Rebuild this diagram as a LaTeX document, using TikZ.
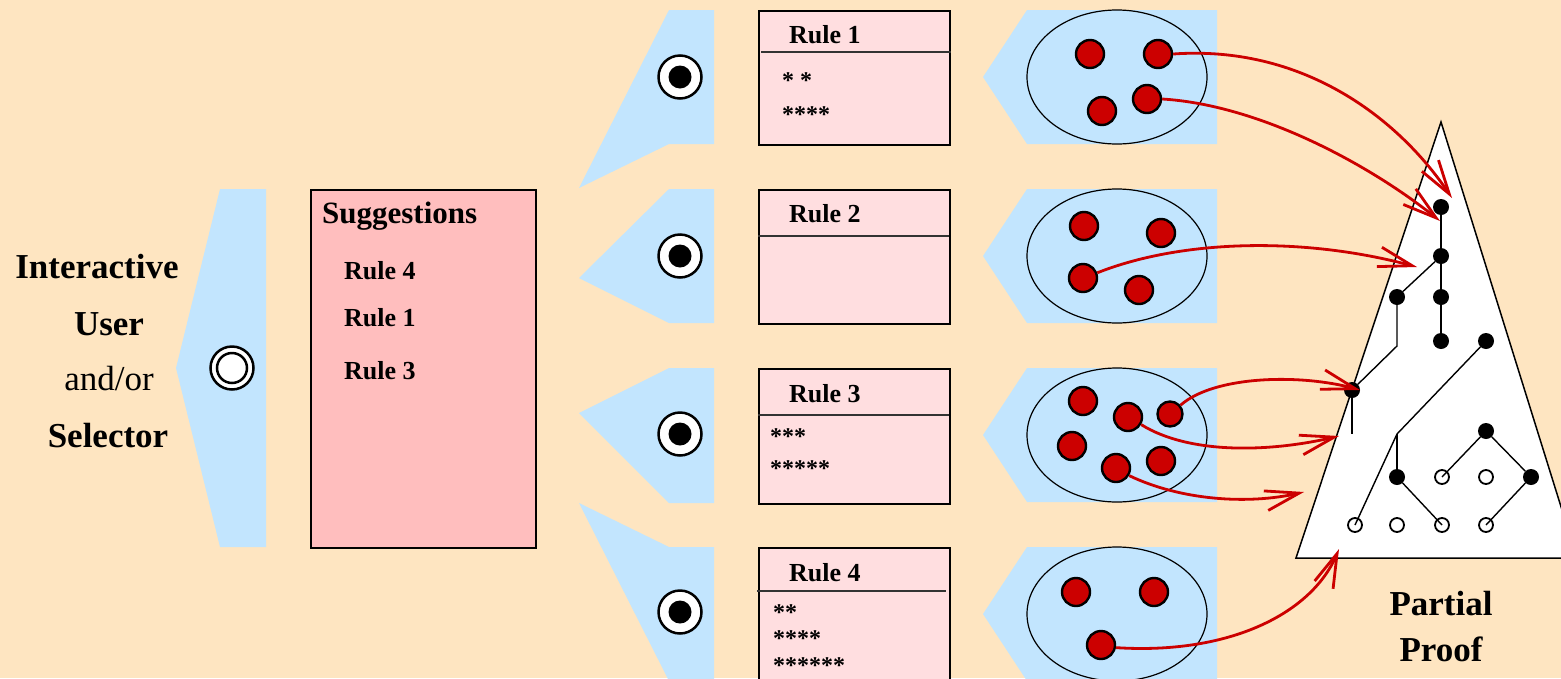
\documentclass[tikz,border=0pt]{standalone}
\usepackage{fontspec}
\setmainfont{Liberation Serif}
\usetikzlibrary{arrows.meta}
\definecolor{bgc}{RGB}{254,229,193}
\definecolor{flagblue}{RGB}{194,229,254}
\definecolor{rulepink}{RGB}{255,222,224}
\definecolor{sugpink}{RGB}{255,190,190}
\definecolor{dotred}{RGB}{204,0,0}
\tikzset{
  flag/.style={fill=flagblue},
  rulebox/.style={draw=black, line width=2pt, fill=rulepink, rectangle, inner sep=0pt, anchor=north west},
  sugbox/.style={draw=black, line width=2pt, fill=sugpink, rectangle, inner sep=0pt, anchor=north west},
  sepline/.style={draw=black!80, line width=1.3pt},
  targetring/.style={circle, draw=black, line width=2.5pt, fill=white, minimum size=43pt, inner sep=0pt},
  targetcore/.style={circle, fill=black, minimum size=23pt, inner sep=0pt},
  ringinner/.style={circle, draw=black, line width=2.5pt, fill=white, minimum size=30pt, inner sep=0pt},
  reddot/.style={circle, draw=black, line width=2.4pt, fill=dotred, minimum size=28pt, inner sep=0pt},
  smalldot/.style={reddot, minimum size=25pt},
  pool/.style={draw=black, line width=1.2pt},
  tnode/.style={circle, fill=black, minimum size=16pt, inner sep=0pt},
  onode/.style={circle, draw=black, line width=1.8pt, minimum size=14pt, inner sep=0pt},
  tedge/.style={draw=black, line width=1.4pt},
  redarrow/.style={draw=dotred, line width=2.8pt, -{Straight Barb[length=34pt,width=20pt]}},
  bigbold/.style={font=\fontsize{35}{40}\selectfont\bfseries, inner sep=0pt, anchor=base},
  bigreg/.style={font=\fontsize{35}{40}\selectfont, inner sep=0pt, anchor=base},
  sugtitle/.style={font=\fontsize{31}{36}\selectfont\bfseries, inner sep=0pt, anchor=base west},
  ruletxt/.style={font=\fontsize{26}{30}\selectfont\bfseries, inner sep=0pt, anchor=base west},
  startxt/.style={font=\fontsize{24}{28}\selectfont\bfseries, inner sep=0pt, anchor=base west},
}
\begin{document}
\begin{tikzpicture}[x=1pt,y=-1pt]
\useasboundingbox (0,0) rectangle (1561,678);
\fill[bgc] (0,0) rectangle (1561,678);

% left labels
\node[bigbold] (lab1) at (97,278) {Interactive};
\node[bigbold] (lab2) at (109,335) {User};
\node[bigreg]  (lab3) at (109,390) {and/or};
\node[bigbold] (lab4) at (108,447) {Selector};

% left flag with double circle
\fill[flag] (220,189) -- (266,189) -- (266,547) -- (220,547) -- (176,368) -- cycle;
\node[targetring] (sel) at (232,368) {};
\node[ringinner] (selin) at (232,368) {};

% suggestions box
\node[sugbox, minimum width=225pt, minimum height=358pt] (sug) at (310,189) {};
\node[sugtitle] (sugt) at (322,223) {Suggestions};
\node[ruletxt] (sr4) at (344,279) {Rule 4};
\node[ruletxt] (sr1) at (344,326) {Rule 1};
\node[ruletxt] (sr3) at (344,379) {Rule 3};

% middle flags
\fill[flag] (669,10) -- (714,10) -- (714,144) -- (669,144) -- (579,188) -- cycle;
\fill[flag] (669,189) -- (714,189) -- (714,323) -- (669,323) -- (579,278) -- cycle;
\fill[flag] (669,368) -- (714,368) -- (714,503) -- (669,503) -- (579,413) -- cycle;
\fill[flag] (579,503) -- (669,547) -- (714,547) -- (714,681) -- (669,681) -- cycle;
\foreach \i/\yy in {1/77,2/256,3/434,4/612}{
  \node[targetring] (tg\i) at (680,\yy) {};
  \node[targetcore] (tc\i) at (680,\yy) {};
}

% rule boxes
\node[rulebox, minimum width=191pt, minimum height=134pt] (rb1) at (758,10) {};
\draw[sepline] (761,52) -- (951,52);
\node[ruletxt] (rt1) at (789,43) {Rule 1};
\node[startxt] (s11) at (782,88) {* *};
\node[startxt] (s12) at (782,122) {****};

\node[rulebox, minimum width=191pt, minimum height=134pt] (rb2) at (758,189) {};
\draw[sepline] (758,236) -- (949,236);
\node[ruletxt] (rt2) at (789,222) {Rule 2};

\node[rulebox, minimum width=191pt, minimum height=135pt] (rb3) at (758,368) {};
\draw[sepline] (758,415) -- (949,415);
\node[ruletxt] (rt3) at (789,402) {Rule 3};
\node[startxt] (s31) at (770,444) {***};
\node[startxt] (s32) at (770,476) {*****};

\node[rulebox, minimum width=191pt, minimum height=143pt] (rb4) at (758,547) {};
\draw[sepline] (757,591) -- (946,591);
\node[ruletxt] (rt4) at (789,581) {Rule 4};
\node[startxt] (s41) at (773,620) {**};
\node[startxt] (s42) at (773,646) {****};
\node[startxt] (s43) at (773,673) {******};

% right flags with pools
\foreach \yy in {77,256,435,614}{
  \fill[flag] (983,\yy) -- (1027,\yy-67) -- (1217,\yy-67) -- (1217,\yy+67) -- (1027,\yy+67) -- cycle;
  \draw[pool] (1117,\yy) ellipse [x radius=90pt, y radius=67pt];
}
\node[reddot] (a1) at (1090,54) {};
\node[reddot] (a2) at (1158,54) {};
\node[reddot] (a3) at (1102,111) {};
\node[reddot] (a4) at (1147,99) {};
\node[reddot] (b1) at (1084,226) {};
\node[reddot] (b2) at (1161,233) {};
\node[reddot] (b3) at (1083,278) {};
\node[reddot] (b4) at (1139,290) {};
\node[reddot] (c1) at (1083,401) {};
\node[reddot] (c2) at (1128,417) {};
\node[smalldot] (c3) at (1170,414) {};
\node[reddot] (c4) at (1072,446) {};
\node[reddot] (c5) at (1116,468) {};
\node[reddot] (c6) at (1161,461) {};
\node[reddot] (e1) at (1076,592) {};
\node[reddot] (e2) at (1154,592) {};
\node[reddot] (e3) at (1101,645) {};

% partial proof triangle
\draw[fill=white, line width=1.5pt] (1441,122) -- (1296,558) -- (1577,558) -- cycle;
\node[bigbold] (pp1) at (1441,615) {Partial};
\node[bigbold] (pp2) at (1441,661) {Proof};

\node[tnode] (t1) at (1441,207) {};
\node[tnode] (t2) at (1441,256) {};
\node[tnode] (t3) at (1397,297) {};
\node[tnode] (t4) at (1441,297) {};
\node[tnode] (t5) at (1441,341) {};
\node[tnode] (t6) at (1486,341) {};
\node[tnode] (t7) at (1352,390) {};
\node[tnode] (t8) at (1397,477) {};
\node[tnode] (t9) at (1486,431) {};
\node[tnode] (t10) at (1531,477) {};
\node[onode] (o1) at (1355,525) {};
\node[onode] (o2) at (1442,477) {};
\node[onode] (o3) at (1486,477) {};
\node[onode] (o4) at (1397,525) {};
\node[onode] (o5) at (1442,525) {};
\node[onode] (o6) at (1486,525) {};
\coordinate (k1) at (1397,346);
\coordinate (k2) at (1352,434);
\coordinate (k3) at (1397,434);

\draw[tedge, line width=1.8pt] (t1) -- (t2);
\draw[tedge, line width=1.8pt] (t2) -- (t4);
\draw[tedge, line width=1.8pt] (t4) -- (t5);
\draw[tedge] (t2) -- (t3);
\draw[tedge] (t3) -- (k1) -- (t7);
\draw[tedge] (t7) -- (k2);
\draw[tedge] (t6) -- (k3) -- (o1.center);
\draw[tedge] (k3) -- (t8);
\draw[tedge] (t8) -- (o5.center);
\draw[tedge] (t9) -- (o2.center);
\draw[tedge] (t9) -- (t10);
\draw[tedge] (t10) -- (o6.center);

% red arrows
\coordinate (p1) at (1452,198);
\coordinate (p2) at (1440,221);
\coordinate (p3) at (1417,267);
\coordinate (p4) at (1360,390);
\coordinate (p5) at (1339,436);
\coordinate (p6) at (1304,492);
\coordinate (p7) at (1339,549);
\draw[redarrow] (a2.east) .. controls (1300,45) and (1396,115) .. (p1);
\draw[redarrow] (a4.east) .. controls (1260,105) and (1370,165) .. (p2);
\draw[redarrow] (b3.20) .. controls (1180,240) and (1301,236) .. (p3);
\draw[redarrow] (c3.40) .. controls (1215,375) and (1302,374) .. (p4);
\draw[redarrow] (c2.-30) .. controls (1190,455) and (1271,452) .. (p5);
\draw[redarrow] (c5.-30) .. controls (1180,500) and (1247,505) .. (p6);
\draw[redarrow] (e3.-10) .. controls (1230,655) and (1312,613) .. (p7);
\end{tikzpicture}
\end{document}
